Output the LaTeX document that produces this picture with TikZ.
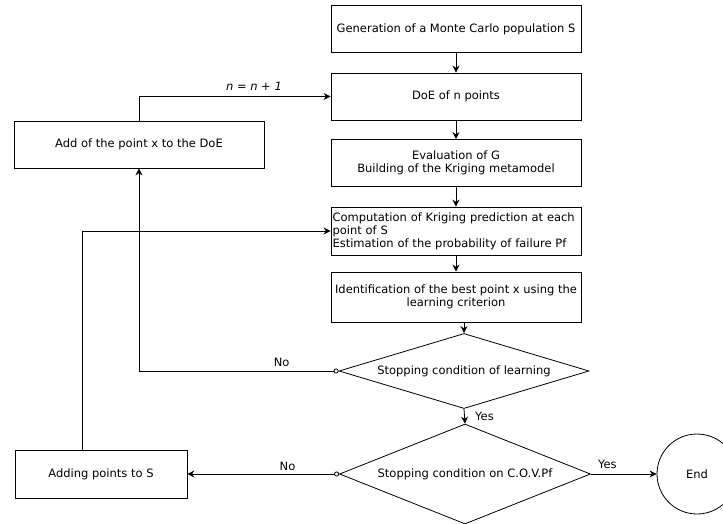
\documentclass[tikz,border=0pt]{standalone}
\usepackage{fontspec}
\setmainfont{DejaVu Sans}
\usetikzlibrary{shapes.geometric,arrows.meta}

\tikzset{
  every node/.style={font=\fontsize{11.5}{13}\selectfont},
  box/.style={draw, rectangle, line width=0.8pt, minimum width=250pt, minimum height=47pt, inner sep=1.5pt, align=center},
  decision/.style={draw, diamond, line width=0.8pt, inner sep=0pt, shape aspect=3.3},
  flow/.style={line width=0.8pt, -{Stealth[length=7pt,width=7pt]}},
  noflow/.style={line width=0.8pt, {Circle[open,length=5pt,width=5pt]}-{Stealth[length=7pt,width=7pt]}}
}

\begin{document}
\begin{tikzpicture}[x=1pt,y=-1pt]
\useasboundingbox (0,0) rectangle (723,524);

% main column
\node[box] (gen) at (456,29) {Generation of a Monte Carlo population S};
\node[box] (doe) at (456,96.5) {DoE of n points};
\node[box] (eval) at (456,163) {Evaluation of G\\Building of the Kriging metamodel};
\node[box, minimum height=48pt, text width=247pt, align=left] (comp) at (456,231) {Computation of Kriging prediction at each point of S\\Estimation of the probability of failure Pf};
\node[box, minimum height=50pt] (ident) at (456,297) {Identification of the best point x using the\\learning criterion};

\node[decision, minimum width=250pt, minimum height=75pt] (stop1) at (464,371) {Stopping condition of learning};
\node[decision, minimum width=251pt, minimum height=100pt] (stop2) at (465,474) {Stopping condition on C.O.V.Pf};
\node[draw, circle, line width=0.8pt, minimum size=80pt, inner sep=0pt] (endc) at (697,474) {End};

% left column
\node[box] (addx) at (139,144.5) {Add of the point x to the DoE};
\node[box, minimum width=172pt, minimum height=48pt] (adds) at (101,474) {Adding points to S};

\draw[flow] (gen) -- (doe);
\draw[flow] (doe) -- (eval);
\draw[flow] (eval) -- (comp);
\draw[flow] (comp) -- (ident);
\draw[flow] (ident.south -| stop1.north) -- (stop1.north);
\draw[flow] (stop1.south) -- node[right=7pt]{Yes} (stop2.north);
\draw[flow] (stop2.east) -- node[pos=0.25, above=2pt]{Yes} (endc.west);

\draw[noflow] (stop1.west) -- node[pos=0.285, above=1pt]{No} (addx.south |- stop1.west) -- (addx.south);
\draw[noflow] (stop2.west) -- node[pos=0.34, above]{No} (adds.east);

\draw[flow] (addx.north) |- node[pos=0.8, above=2pt]{\itshape n = n + 1} (doe.west);
\draw[flow] ([xshift=-19pt]adds.north) |- (comp.west);

\end{tikzpicture}
\end{document}
